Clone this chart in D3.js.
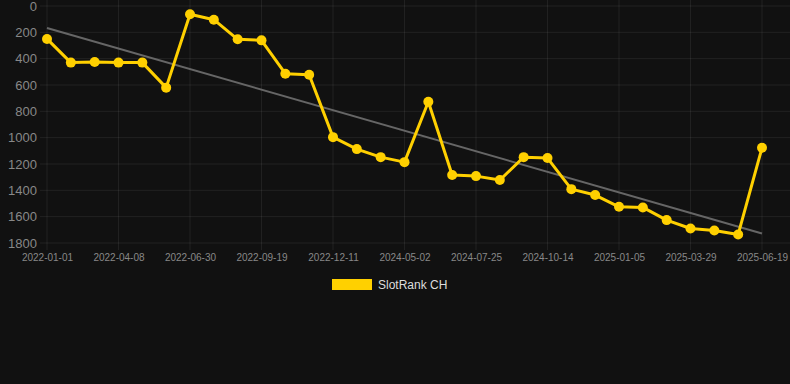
<!DOCTYPE html>
<html>
<head>
<meta charset="utf-8">
<script src="https://cdn.jsdelivr.net/npm/d3@7"></script>
<style>
  html, body { margin: 0; padding: 0; background: #111111; }
  svg { display: block; }
</style>
</head>
<body>
<svg id="chart" width="790" height="384"></svg>
<script>
// ---- data ----
const tickLabels = ["2022-01-01","2022-04-08","2022-06-30","2022-09-19","2022-12-11","2024-05-02","2024-07-25","2024-10-14","2025-01-05","2025-03-29","2025-06-19"];
const seriesName = "SlotRank CH";
const rankValues = [250,430,425,430,430,620,63,104,253,261,514,522,996,1087,1148,1186,727,1284,1292,1322,1148,1155,1391,1436,1525,1530,1626,1690,1705,1735,1077];
const yTicks = [0,200,400,600,800,1000,1200,1400,1600,1800];
const labelEvery = 3;

// ---- layout ----
const W = 790, H = 384;
const area = { left: 40, right: 790, top: 6, bottom: 243 };
const svg = d3.select("#chart");
svg.append("rect").attr("width", W).attr("height", H).attr("fill", "#111111");

const idx = d3.range(rankValues.length);
const x = d3.scalePoint().domain(idx).range([47, 762]);
const y = d3.scaleLinear().domain([0, 1800]).range([area.top, area.bottom]);

// horizontal grid
svg.append("g").selectAll("line").data(yTicks).join("line")
  .attr("x1", area.left).attr("x2", area.right)
  .attr("y1", d => y(d)).attr("y2", d => y(d))
  .attr("stroke", "rgba(255,255,255,0.07)").attr("stroke-width", 1);

// vertical grid at labelled ticks
const tickIdx = idx.filter(i => i % labelEvery === 0);
svg.append("g").selectAll("line").data(tickIdx).join("line")
  .attr("x1", d => x(d)).attr("x2", d => x(d))
  .attr("y1", 0).attr("y2", area.bottom + 7)
  .attr("stroke", "rgba(255,255,255,0.07)").attr("stroke-width", 1);

// y axis labels
const yAxis = d3.axisLeft(y).tickValues(yTicks).tickFormat(d3.format("d")).tickSize(0).tickPadding(0);
const gy = svg.append("g").attr("transform", `translate(37,0)`).call(yAxis);
gy.select(".domain").remove();
gy.selectAll("text").attr("fill", "#888888").attr("font-size", 13)
  .attr("font-family", "Liberation Sans, Arial, sans-serif");

// x axis labels
const xAxis = d3.axisBottom(x).tickValues(tickIdx)
  .tickFormat(i => tickLabels[i / labelEvery]).tickSize(0).tickPadding(0);
const gx = svg.append("g").attr("transform", `translate(0,${area.bottom + 11})`).call(xAxis);
gx.select(".domain").remove();
gx.selectAll("text").attr("fill", "#888888").attr("font-size", 10)
  .attr("font-family", "Liberation Sans, Arial, sans-serif");

// trend line (least squares)
const n = rankValues.length;
const mx = d3.mean(idx), my = d3.mean(rankValues);
const slope = d3.sum(idx, i => (i - mx) * (rankValues[i] - my)) / d3.sum(idx, i => (i - mx) ** 2);
const icpt = my - slope * mx;
svg.append("line")
  .attr("x1", x(0)).attr("y1", y(icpt))
  .attr("x2", x(n - 1)).attr("y2", y(icpt + slope * (n - 1)))
  .attr("stroke", "#666666").attr("stroke-width", 2);

// series line
const line = d3.line().x((d, i) => x(i)).y(d => y(d));
svg.append("path").datum(rankValues)
  .attr("d", line).attr("fill", "none")
  .attr("stroke", "#FFD000").attr("stroke-width", 3).attr("stroke-linejoin", "round");

svg.append("g").selectAll("circle").data(rankValues).join("circle")
  .attr("cx", (d, i) => x(i)).attr("cy", d => y(d)).attr("r", 5)
  .attr("fill", "#FFD000");

// legend
const lg = svg.append("g");
lg.append("rect").attr("x", 332).attr("y", 279).attr("width", 40).attr("height", 11)
  .attr("fill", "#FFD000");
lg.append("text").attr("x", 378).attr("y", 289).text(seriesName)
  .attr("fill", "#dddddd").attr("font-size", 12)
  .attr("font-family", "Liberation Sans, Arial, sans-serif");
</script>
</body>
</html>
